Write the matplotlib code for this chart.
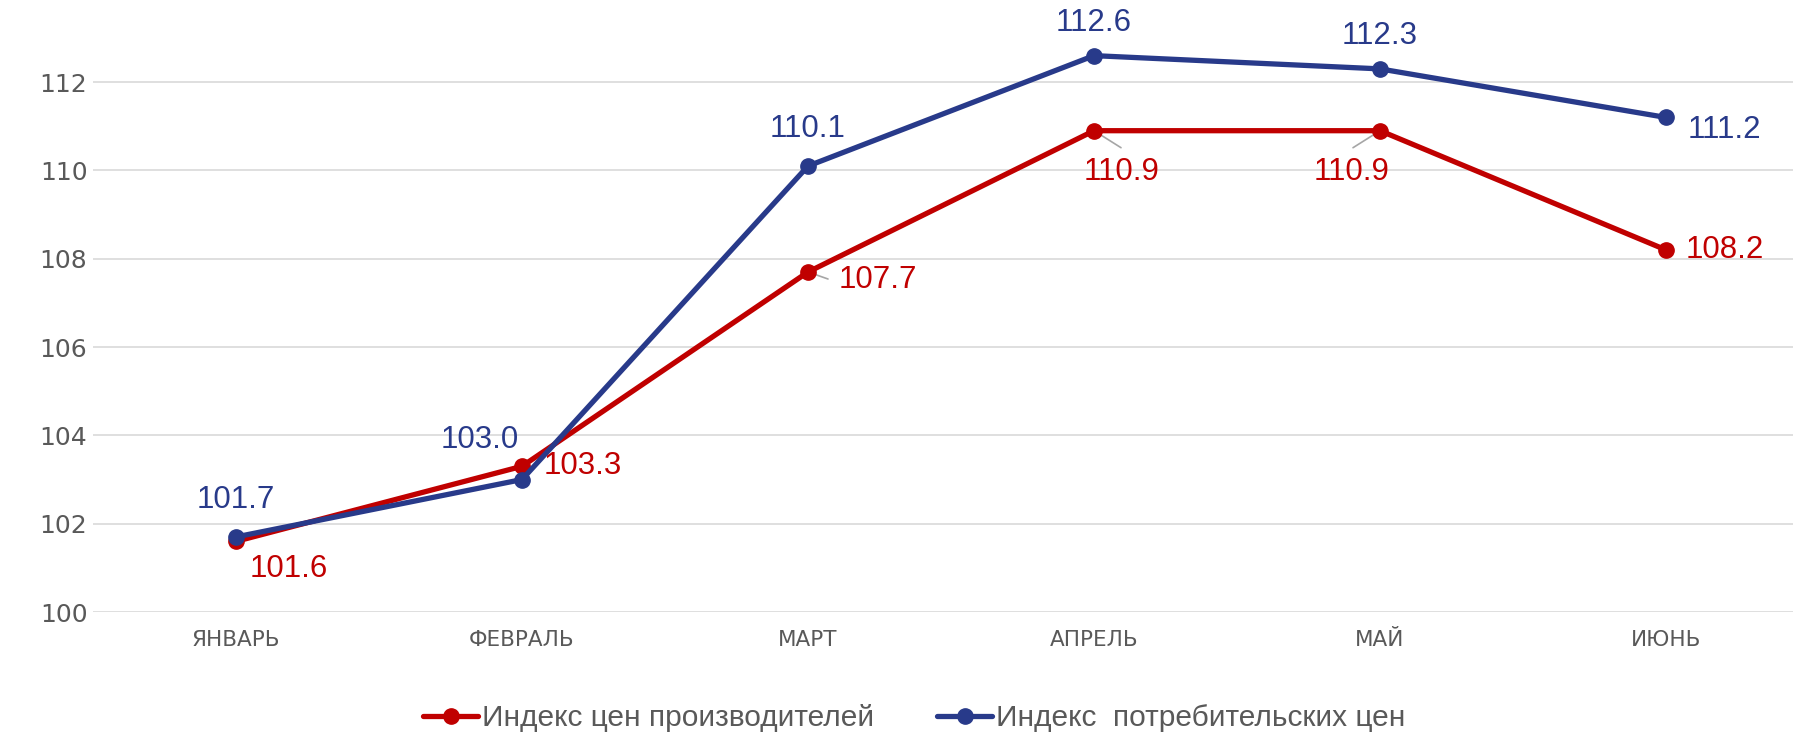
import matplotlib
matplotlib.use("Agg")
import matplotlib.pyplot as plt

months = ["ЯНВАРЬ", "ФЕВРАЛЬ", "МАРТ", "АПРЕЛЬ", "МАЙ", "ИЮНЬ"]
producer = [101.6, 103.3, 107.7, 110.9, 110.9, 108.2]
consumer = [101.7, 103.0, 110.1, 112.6, 112.3, 111.2]
yticks = [100, 102, 104, 106, 108, 110, 112]

name_producer = "Индекс цен производителей"
name_consumer = "Индекс  потребительских цен"

RED = "#C00000"
BLUE = "#283A8A"
GREY = "#595959"

# label offsets in pixels: (dx, dy, ha, leader end or None)
red_pos = [(53, -28, "center", None), (22, 0, "left", None), (31, -8, "left", (20, -7)),
           (28, -41, "center", (27, -17)), (-28, -41, "center", (-27, -17)),
           (20, 0, "left", None)]
blue_pos = [(0, 37, "center"), (-42, 40, "center"), (0, 37, "center"),
            (0, 33, "center"), (0, 33, "center"), (22, -13, "left")]

fig = plt.figure(figsize=(17.93, 7.33), dpi=100)
ax = fig.add_axes([93 / 1793, 1 - 612 / 733, 1 - 93 / 1793, 612 / 733])

x = list(range(len(months)))
ax.plot(x, producer, color=RED, lw=3.8, marker="o", ms=11, label=name_producer,
        solid_capstyle="round", zorder=3)
ax.plot(x, consumer, color=BLUE, lw=3.8, marker="o", ms=11, label=name_consumer,
        solid_capstyle="round", zorder=4)

ax.set_xlim(-0.5, 5.444)
ax.set_ylim(100, 113.86)
ax.set_yticks(yticks)
ax.set_xticks(x)
ax.set_xticklabels(months)
ax.grid(axis="y", color="#D9D9D9", lw=1.2)
ax.set_axisbelow(True)
for s in ax.spines.values():
    s.set_visible(False)
ax.tick_params(length=0)
ax.tick_params(axis="y", labelsize=18, labelcolor=GREY, pad=4)
ax.tick_params(axis="x", labelsize=15.5, labelcolor=GREY, pad=13)
for t in ax.get_yticklabels() + ax.get_xticklabels():
    t.set_family("DejaVu Sans")

lab_font = ["Liberation Sans", "DejaVu Sans"]
for i, v in enumerate(producer):
    dx, dy, ha, leader = red_pos[i]
    ax.annotate(f"{v:.1f}", (i, v), xytext=(dx, dy), textcoords="offset pixels",
                ha=ha, va="center", fontsize=22.5, color=RED, family=lab_font, zorder=5)
    if leader:
        ax.annotate("", (i, v), xytext=leader, textcoords="offset pixels",
                    arrowprops=dict(arrowstyle="-", color="#A6A6A6", lw=1.2,
                                    shrinkA=0, shrinkB=0), zorder=2)
for i, v in enumerate(consumer):
    dx, dy, ha = blue_pos[i]
    ax.annotate(f"{v:.1f}", (i, v), xytext=(dx, dy), textcoords="offset pixels",
                ha=ha, va="center", fontsize=22.5, color=BLUE, family=lab_font, zorder=5)

leg = fig.legend(loc="center", bbox_to_anchor=(0.51, 0.02), ncol=2, frameon=False,
                 handlelength=1.84, handletextpad=0.13, columnspacing=2.1,
                 prop={"family": ["Liberation Sans"], "size": 21.5})
for t in leg.get_texts():
    t.set_color(GREY)

fig.savefig("out.png", dpi=100)
